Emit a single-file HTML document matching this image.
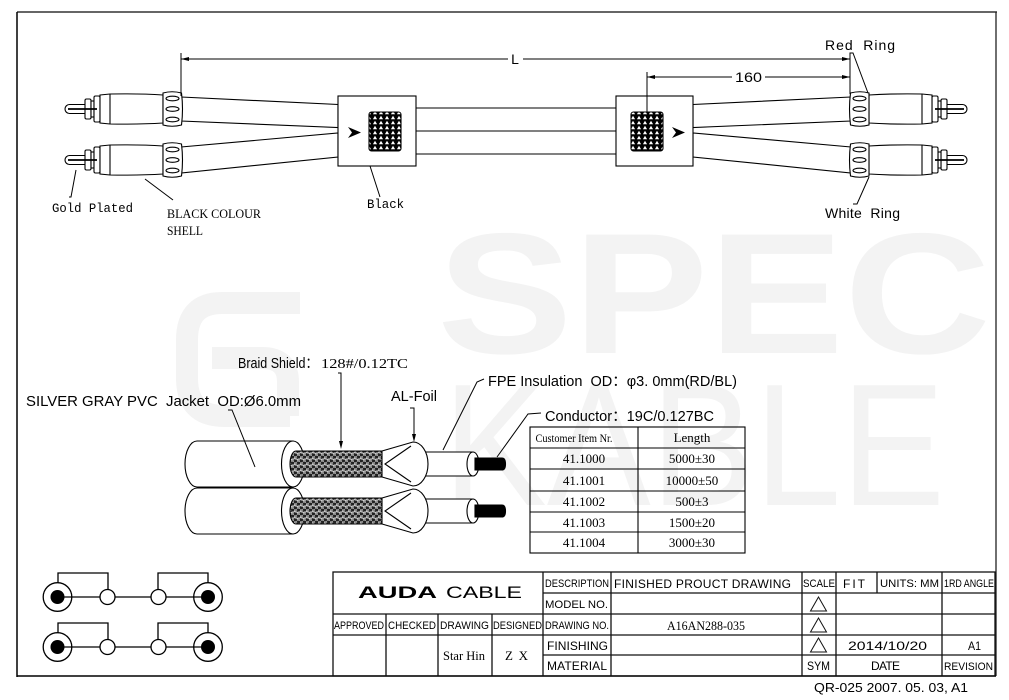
<!DOCTYPE html>
<html><head><meta charset="utf-8"><style>
html,body{margin:0;padding:0;background:#fff;}
svg{display:block;}
</style></head><body>
<svg width="1009" height="700" viewBox="0 0 1009 700" xmlns="http://www.w3.org/2000/svg">
<defs>
 <pattern id="mesh" width="6" height="5" patternUnits="userSpaceOnUse">
  <rect width="6" height="5" fill="#000"/>
  <path d="M0.9,4.3 L3,0.8 L5.1,4.3 Z" fill="#fff"/>
 </pattern>
 <pattern id="braid" width="6" height="6" patternUnits="userSpaceOnUse">
  <rect width="6" height="6" fill="#222"/>
  <path d="M0,0.5 L3,3.5 M0,2 L1.5,3.5 M1.5,0 L3,1.5 M3,5.5 L6,2.5 M3,4 L4.5,2.5 M4.5,6 L6,4.5" stroke="#eee" stroke-width="0.8"/>
 </pattern>
 <g id="plug" fill="#fff" stroke="#000" stroke-width="1.1">
  <path d="M92,-4.5 L69.5,-4.5 A4.5,4.5 0 0 0 69.5,4.5 L92,4.5"/>
  <rect x="85" y="-10" width="6" height="20" rx="1.5"/>
  <rect x="91" y="-8" width="3" height="16"/>
  <rect x="94" y="-13" width="6" height="26" rx="1.5"/>
  <line x1="68" y1="0" x2="97" y2="0" stroke-width="1.7"/>
  <path d="M100,-14 L110,-15 Q140,-15.5 163,-14 L163,14 Q140,15.5 110,15 L100,14 Z"/>
  <line x1="110" y1="-15" x2="110" y2="15"/>
  <path d="M163,-16 Q172,-18.5 181.5,-16 Q183.5,0 181.5,16 Q172,18.5 163,16 Z"/>
  <ellipse cx="172.5" cy="-10.5" rx="6.5" ry="2.3"/>
  <ellipse cx="172.5" cy="0" rx="6.5" ry="2.3"/>
  <ellipse cx="172.5" cy="10.5" rx="6.5" ry="2.3"/>
 </g>
 <g id="cab" stroke="#000" stroke-width="1.1">
  <path d="M197,441 L293,441 L293,487 L197,487 A12,23 0 0 1 197,441 Z" fill="#fff"/>
  <ellipse cx="293" cy="464" rx="11.5" ry="23" fill="#fff"/>
  <path d="M296,451 L382,451 L382,477 L296,477 A6,13 0 0 1 296,451 Z" fill="url(#braid)"/>
  <path d="M405,452 L473,452 L473,476 L405,476 Z" fill="#fff"/>
  <ellipse cx="473" cy="464" rx="6" ry="12" fill="#fff"/>
  <path d="M475,458 L502,458 Q505.5,458 505.5,464 Q505.5,470 502,470 L475,470 Z" fill="#000"/>
  <path d="M382,451 L413,442 A15,22 0 0 1 413,486 L382,477 Z" fill="#fff"/>
  <path d="M411,446 L385,464 L411,482" fill="none"/>
 </g>
</defs>
<rect width="1009" height="700" fill="#fff"/>

<!-- watermark -->
<g fill="#f3f3f3" font-family="'Liberation Sans',sans-serif">
 <text x="437" y="353" font-size="172" font-weight="bold" textLength="554" lengthAdjust="spacingAndGlyphs">SPEC</text>
 <text x="443" y="505" font-size="174" textLength="502" lengthAdjust="spacingAndGlyphs">KABLE</text>
</g>
<g fill="none" stroke="#f3f3f3" stroke-width="22">
 <path d="M300,303 L222,303 Q187,303 187,340 L187,378 Q187,416 224,416 L290,416"/>
 <path d="M212,358 L262,358 Q288,358 288,382 L288,416"/>
</g>

<!-- border -->
<line x1="17" y1="12" x2="997" y2="12" stroke="#666" stroke-width="2"/>
<line x1="17" y1="12" x2="17" y2="677" stroke="#000" stroke-width="1.5"/>
<line x1="996" y1="12" x2="996" y2="676" stroke="#222" stroke-width="1.3"/>
<line x1="17" y1="676" x2="996" y2="676" stroke="#000" stroke-width="1.5"/>

<!-- cables top -->
<g fill="#fff" stroke="#000" stroke-width="1.1">
 <path d="M181,97 L338,104.5 L338,127.5 L181,121 Z"/>
 <path d="M181,147 L338,133 L338,157 L181,173 Z"/>
 <path d="M851,97 L693,104.5 L693,127.5 L851,121 Z"/>
 <path d="M851,147 L693,133 L693,157 L851,173 Z"/>
 <line x1="416" y1="108" x2="616" y2="108"/>
 <line x1="416" y1="131" x2="616" y2="131"/>
 <line x1="416" y1="154" x2="616" y2="154"/>
 <rect x="338" y="96" width="78" height="70"/>
 <rect x="616" y="96" width="77" height="70"/>
 <rect x="369" y="112" width="32" height="39" rx="2.5" fill="url(#mesh)"/>
 <rect x="631" y="112" width="32" height="39" rx="2.5" fill="url(#mesh)"/>
</g>
<path d="M348,127 L361,132.5 L348,138 L352,132.5 Z" fill="#000"/>
<path d="M672,127 L685,132.5 L672,138 L676,132.5 Z" fill="#000"/>

<use href="#plug" transform="translate(0,109)"/>
<use href="#plug" transform="translate(0,160)"/>
<use href="#plug" transform="translate(1032,109) scale(-1,1)"/>
<use href="#plug" transform="translate(1032,160) scale(-1,1)"/>

<!-- dimensions -->
<g stroke="#000" stroke-width="1" fill="none">
 <line x1="181" y1="53" x2="181" y2="96"/>
 <line x1="181" y1="59" x2="508" y2="59"/>
 <line x1="523" y1="59" x2="850" y2="59"/>
 <line x1="647" y1="72" x2="647" y2="113"/>
 <line x1="647" y1="77" x2="732" y2="77"/>
 <line x1="765" y1="77" x2="850" y2="77"/>
 <polyline points="850,94 850,53 853,53 868,93"/>
 <polyline points="853,204 857,204 869,177"/>
 <polyline points="69,197 71,197 76,170"/>
 <line x1="145" y1="179" x2="173" y2="200"/>
 <line x1="370" y1="166" x2="380" y2="197"/>
</g>
<g fill="#000">
 <path d="M181,59 L189,57 L189,61 Z"/>
 <path d="M850,59 L842,57 L842,61 Z"/>
 <path d="M647,77 L655,75 L655,79 Z"/>
 <path d="M850,77 L842,75 L842,79 Z"/>
</g>

<g font-family="'Liberation Sans',sans-serif" font-size="14" fill="#000">
 <text x="515" y="64" text-anchor="middle">L</text>
 <text x="735" y="82" textLength="27" lengthAdjust="spacingAndGlyphs">160</text>
 <text x="825" y="50" textLength="70" xml:space="preserve">Red  Ring</text>
 <text x="825" y="218" textLength="75" xml:space="preserve">White  Ring</text>
</g>
<g font-family="'Liberation Mono',monospace" font-size="12.5" fill="#000">
 <text x="52" y="212" textLength="81" lengthAdjust="spacingAndGlyphs">Gold Plated</text>
 <text x="367" y="208" textLength="37" lengthAdjust="spacingAndGlyphs">Black</text>
</g>
<g font-family="'Liberation Serif',serif" font-size="13" fill="#000">
 <text x="167" y="218" textLength="94" lengthAdjust="spacingAndGlyphs">BLACK COLOUR</text>
 <text x="167" y="235" textLength="36" lengthAdjust="spacingAndGlyphs">SHELL</text>
</g>

<!-- cable cross-section -->
<use href="#cab" transform="translate(0,47)"/>
<use href="#cab"/>

<g stroke="#000" stroke-width="1" fill="none">
 <polyline points="228,410 232,410 255,467"/>
 <polyline points="338,373 341,373 341,444"/>
 <polyline points="410,408 414,408 414,437"/>
 <polyline points="484,379 477,382 443,450"/>
 <polyline points="541,413 528,414 497,457"/>
</g>
<g fill="#000">
 <path d="M341,449 L339,441 L343,441 Z"/>
 <path d="M414,442 L412,434 L416,434 Z"/>
</g>

<g font-family="'Liberation Sans','Noto Sans CJK SC',sans-serif" font-size="14.5" fill="#000">
 <text x="238" y="368" textLength="80" lengthAdjust="spacingAndGlyphs">Braid Shield：</text>
 <text x="26" y="406" textLength="275" lengthAdjust="spacingAndGlyphs" xml:space="preserve">SILVER GRAY PVC  Jacket  OD:Ø6.0mm</text>
 <text x="391" y="401" textLength="46" lengthAdjust="spacingAndGlyphs">AL-Foil</text>
 <text x="488" y="386" textLength="249" lengthAdjust="spacingAndGlyphs" xml:space="preserve">FPE Insulation  OD：φ3. 0mm(RD/BL)</text>
 <text x="545" y="421" textLength="169" lengthAdjust="spacingAndGlyphs">Conductor：19C/0.127BC</text>
</g>
<text x="321" y="368" font-family="'Liberation Serif',serif" font-size="14" textLength="87" lengthAdjust="spacingAndGlyphs">128#/0.12TC</text>

<!-- table -->
<g stroke="#000" stroke-width="1.1" fill="none">
 <rect x="530" y="427" width="215" height="126"/>
 <line x1="638" y1="427" x2="638" y2="553"/>
 <line x1="530" y1="448" x2="745" y2="448"/>
 <line x1="530" y1="469" x2="745" y2="469"/>
 <line x1="530" y1="491" x2="745" y2="491"/>
 <line x1="530" y1="512" x2="745" y2="512"/>
 <line x1="530" y1="532" x2="745" y2="532"/>
</g>
<g font-family="'Liberation Serif',serif" font-size="13" fill="#000" text-anchor="middle">
 <text x="574" y="442" font-size="11.5" textLength="77" lengthAdjust="spacingAndGlyphs">Customer Item Nr.</text>
 <text x="692" y="442">Length</text>
 <text x="584" y="463">41.1000</text><text x="692" y="463">5000±30</text>
 <text x="584" y="485">41.1001</text><text x="692" y="485">10000±50</text>
 <text x="584" y="506">41.1002</text><text x="692" y="506">500±3</text>
 <text x="584" y="527">41.1003</text><text x="692" y="527">1500±20</text>
 <text x="584" y="547">41.1004</text><text x="692" y="547">3000±30</text>
</g>

<!-- bottom-left schematic -->
<g stroke="#000" stroke-width="1.3" fill="none">
 <polyline points="58,583 58,573 108,573 108,590"/>
 <polyline points="158,590 158,573 208,573 208,583"/>
 <polyline points="58,633 58,623 108,623 108,640"/>
 <polyline points="158,640 158,623 208,623 208,633"/>
 <circle cx="57.5" cy="597" r="14.3" fill="#fff"/>
 <circle cx="208" cy="597" r="14.3" fill="#fff"/>
 <circle cx="57.5" cy="647" r="14.3" fill="#fff"/>
 <circle cx="208" cy="647" r="14.3" fill="#fff"/>
 <line x1="58" y1="597" x2="208" y2="597"/>
 <line x1="58" y1="647" x2="208" y2="647"/>
 <circle cx="107.5" cy="597" r="7.5" fill="#fff"/>
 <circle cx="158.5" cy="597" r="7.5" fill="#fff"/>
 <circle cx="107.5" cy="647" r="7.5" fill="#fff"/>
 <circle cx="158.5" cy="647" r="7.5" fill="#fff"/>
</g>
<g fill="#000">
 <circle cx="57.5" cy="597" r="7"/>
 <circle cx="208" cy="597" r="7"/>
 <circle cx="57.5" cy="647" r="7"/>
 <circle cx="208" cy="647" r="7"/>
</g>

<!-- title block -->
<g stroke="#111" stroke-width="1.3" fill="none">
 <rect x="333" y="572" width="662" height="104"/>
 <line x1="543" y1="593" x2="995" y2="593"/>
 <line x1="333" y1="614" x2="995" y2="614"/>
 <line x1="333" y1="635" x2="995" y2="635"/>
 <line x1="543" y1="655" x2="995" y2="655"/>
 <line x1="386" y1="614" x2="386" y2="676"/>
 <line x1="438" y1="614" x2="438" y2="676"/>
 <line x1="492" y1="614" x2="492" y2="676"/>
 <line x1="543" y1="572" x2="543" y2="676"/>
 <line x1="611" y1="572" x2="611" y2="676"/>
 <line x1="802" y1="572" x2="802" y2="676"/>
 <line x1="836" y1="572" x2="836" y2="676"/>
 <line x1="877" y1="572" x2="877" y2="593"/>
 <line x1="942" y1="572" x2="942" y2="676"/>
 <path d="M818.5,597 L810.5,611 L826.5,611 Z" stroke-width="1"/>
 <path d="M818.5,618 L810.5,632 L826.5,632 Z" stroke-width="1"/>
 <path d="M818.5,638 L810.5,652 L826.5,652 Z" stroke-width="1"/>
</g>
<g font-family="'Liberation Sans',sans-serif" fill="#000">
 <text x="358" y="598" font-size="17" font-weight="bold" textLength="79" lengthAdjust="spacingAndGlyphs">AUDA</text>
 <text x="446" y="598" font-size="17" textLength="76" lengthAdjust="spacingAndGlyphs">CABLE</text>
</g>
<g font-family="'Liberation Sans',sans-serif" font-size="11" fill="#000">
 <text x="545" y="587" textLength="64" lengthAdjust="spacingAndGlyphs">DESCRIPTION</text>
 <text x="614" y="588" font-size="12" textLength="177" lengthAdjust="spacing">FINISHED PROUCT DRAWING</text>
 <text x="803" y="587" textLength="32" lengthAdjust="spacingAndGlyphs">SCALE</text>
 <text x="843" y="588" font-size="12" textLength="22" lengthAdjust="spacing">FIT</text>
 <text x="880" y="587" textLength="59" lengthAdjust="spacingAndGlyphs">UNITS: MM</text>
 <text x="944" y="587" textLength="50" lengthAdjust="spacingAndGlyphs">1RD ANGLE</text>
 <text x="545" y="608" textLength="63" lengthAdjust="spacingAndGlyphs">MODEL NO.</text>
 <text x="334" y="629" textLength="50" lengthAdjust="spacingAndGlyphs">APPROVED</text>
 <text x="388" y="629" textLength="48" lengthAdjust="spacingAndGlyphs">CHECKED</text>
 <text x="440" y="629" textLength="49" lengthAdjust="spacingAndGlyphs">DRAWING</text>
 <text x="493" y="629" textLength="49" lengthAdjust="spacingAndGlyphs">DESIGNED</text>
 <text x="545" y="629" textLength="64" lengthAdjust="spacingAndGlyphs">DRAWING NO.</text>
 <text x="547" y="650" font-size="12" textLength="61" lengthAdjust="spacing">FINISHING</text>
 <text x="848" y="650" font-size="12" textLength="79" lengthAdjust="spacingAndGlyphs">2014/10/20</text>
 <text x="968" y="650" font-size="12" textLength="13" lengthAdjust="spacingAndGlyphs">A1</text>
 <text x="547" y="670" font-size="12" textLength="60" lengthAdjust="spacing">MATERIAL</text>
 <text x="807" y="670" font-size="12" textLength="23" lengthAdjust="spacingAndGlyphs">SYM</text>
 <text x="871" y="670" font-size="12" textLength="29" lengthAdjust="spacing">DATE</text>
 <text x="944" y="670" textLength="49" lengthAdjust="spacingAndGlyphs">REVISION</text>
 <text x="814" y="692" font-size="13" textLength="154" lengthAdjust="spacingAndGlyphs">QR-025 2007. 05. 03, A1</text>
</g>
<g font-family="'Liberation Serif',serif" font-size="13" fill="#000">
 <text x="667" y="630" textLength="78" lengthAdjust="spacingAndGlyphs">A16AN288-035</text>
 <text x="443" y="660" textLength="42" lengthAdjust="spacingAndGlyphs">Star Hin</text>
 <text x="505" y="660" textLength="23" lengthAdjust="spacing">Z X</text>
</g>
</svg>
</body></html>
